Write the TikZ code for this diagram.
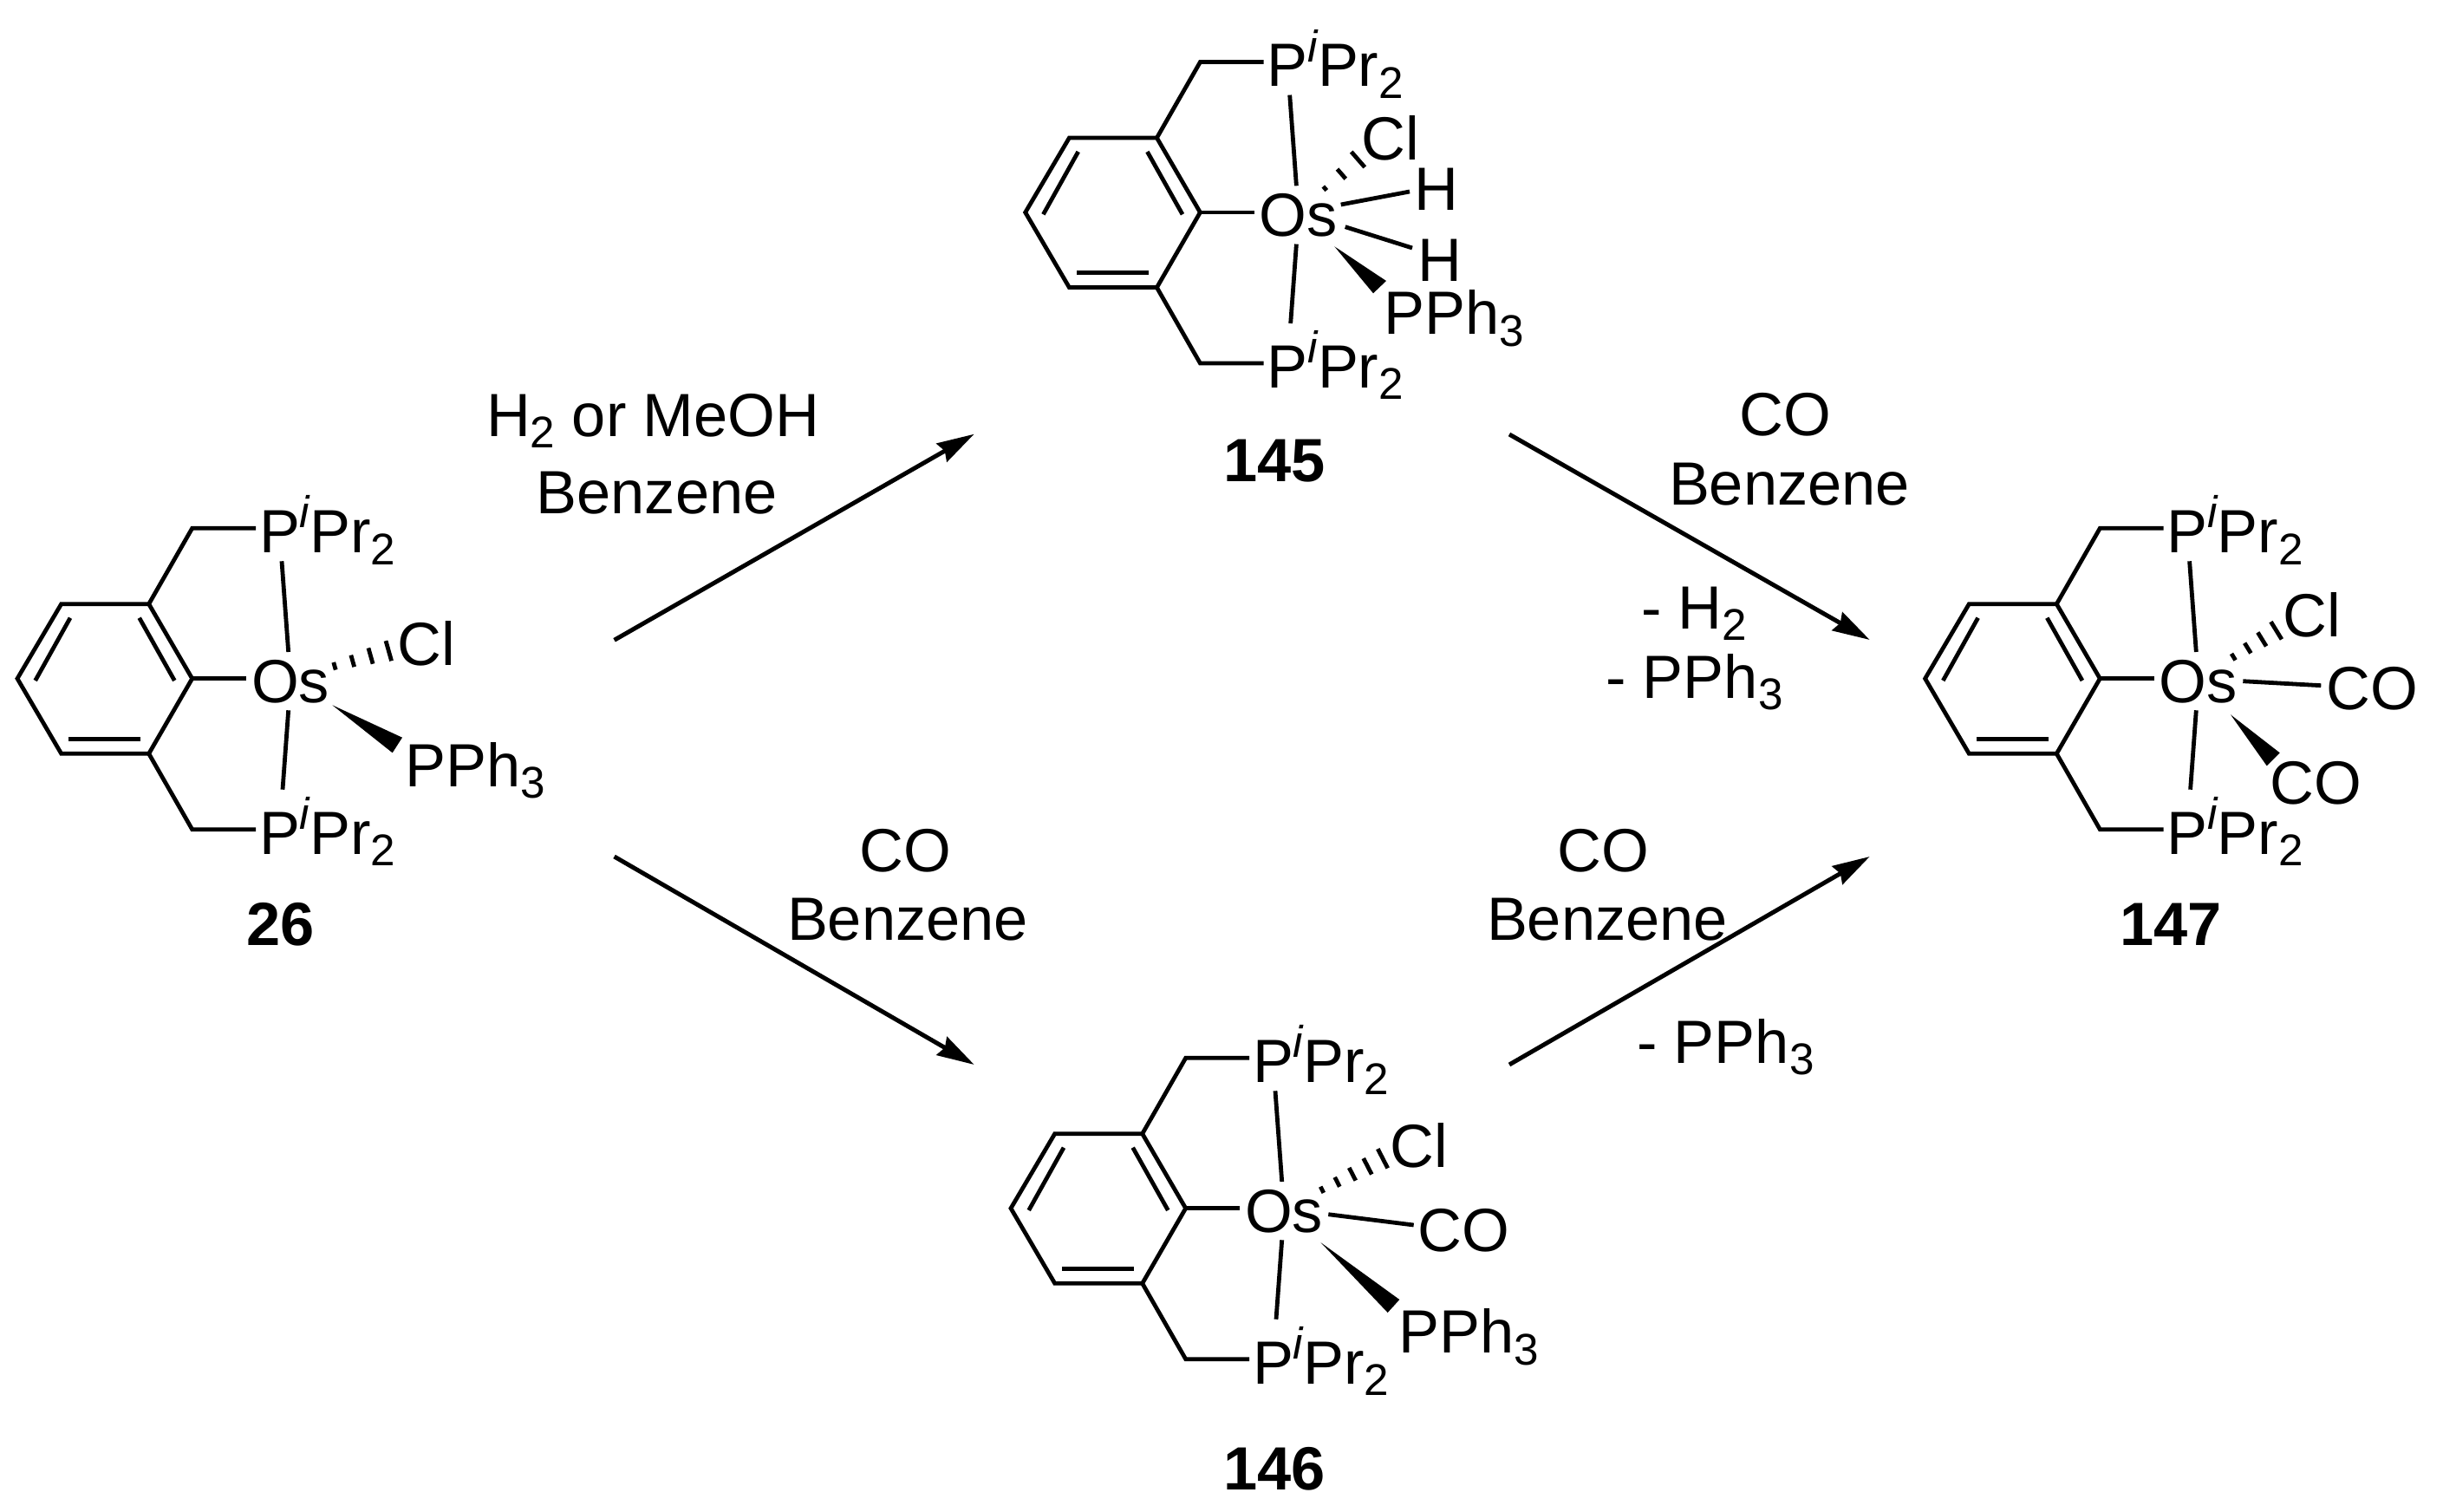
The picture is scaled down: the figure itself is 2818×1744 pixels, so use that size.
\documentclass[tikz,border=0pt]{standalone}
\usepackage{fontspec}
\setmainfont{Liberation Sans}
\usetikzlibrary{arrows.meta,calc}
\newcommand\txtfont{\fontsize{17.6}{20}\selectfont}
\newcommand\smfont{\fontsize{12.8}{14}\selectfont}
\newcommand\mysubs[1]{\raisebox{-.19em}{\smfont #1}}
\newcommand\PiPr{P\raisebox{.41em}{\smfont\itshape i}Pr\mysubs{2}}
\tikzset{
  lab/.style={anchor=base west,inner sep=0pt,outer sep=0pt,font=\txtfont,text=black},
  num/.style={lab,font=\txtfont\bfseries},
  bond/.style={line width=1.2pt,line cap=butt,line join=miter,black},
  rxn/.style={line width=1.25pt,black,-{Stealth[length=10.75pt,width=6pt,inset=1pt]}},
}
\newcommand\pincer[3]{%
\begin{scope}[shift={(#2,#3)}]
\coordinate (#1a) at (221.7,782.7);\coordinate (#1b) at (171.7,696.7);\coordinate (#1c) at (70.7,696.7);
\coordinate (#1d) at (20,782.7);\coordinate (#1e) at (70.7,869.3);\coordinate (#1f) at (171.7,869.3);
\coordinate (#1g) at (221.7,609.3);\coordinate (#1h) at (295,609.3);
\coordinate (#1i) at (221.7,956.7);\coordinate (#1j) at (295,956.7);
\coordinate (#1k) at (284,782.7);
\coordinate (#1l) at (325,647.3);\coordinate (#1m) at (332.7,752);
\coordinate (#1n) at (332.7,819.3);\coordinate (#1o) at (326,910.7);
\coordinate (#1p) at (160.7,712.7);\coordinate (#1q) at (201.3,785);
\coordinate (#1r) at (81,712.7);\coordinate (#1s) at (40.7,785);
\coordinate (#1t) at (79.3,852.3);\coordinate (#1u) at (162.3,852.3);
\draw[bond] (#1a)--(#1b)--(#1c)--(#1d)--(#1e)--(#1f)--cycle;
\draw[bond] (#1p)--(#1q);\draw[bond] (#1r)--(#1s);\draw[bond] (#1t)--(#1u);
\draw[bond] (#1b)--(#1g)--(#1h);\draw[bond] (#1f)--(#1i)--(#1j);
\draw[bond] (#1a)--(#1k);\draw[bond] (#1l)--(#1m);\draw[bond] (#1n)--(#1o);
\node[lab] (#1Pa) at (299,637.7) {\PiPr};
\node[lab] (#1Pb) at (299,985) {\PiPr};
\node[lab] (#1Os) at (290,810) {Os};
\end{scope}}
\newcommand\hashed[6]{% name, A, B, n, end half width, start half width (px)
\coordinate (#1A) at #2;\coordinate (#1B) at #3;\coordinate (#1C) at ($(#1A)!2!(#1B)$);
\foreach \k in {1,...,#4}{%
  \pgfmathsetmacro\ff{(\k-1)/(#4-1)}%
  \pgfmathsetmacro\hw{(#6+\ff*(#5-#6))*0.25}%
  \draw[bond] ($(#1A)!\ff!(#1B)!\hw pt!90:(#1C)$)--($(#1A)!\ff!(#1B)!\hw pt!-90:(#1C)$);
}}
\begin{document}
\begin{tikzpicture}[x=0.25pt,y=-0.25pt]
\useasboundingbox (0,0) rectangle (2818,1744);
% 26
\pincer{A}{0}{0}
\node[lab] (Acl) at (458.2,767.7) {Cl};
\node[lab] (Apph) at (467.7,907.3) {PPh\mysubs{3}};
\node[num] (Anum) at (284.7,1090) {26};
\hashed{Ah}{(386,768.3)}{(448.3,750.7)}{4}{12}{4.5}
\coordinate (Aw1) at (383.3,813.3);\coordinate (Aw2) at (464,850.7);\coordinate (Aw3) at (452.7,868.3);
\fill[black] (Aw1)--(Aw2)--(Aw3)--cycle;
% 145
\pincer{B}{1162.7}{-537.7}
\node[lab] (Bcl) at (1570.5,184.3) {Cl};
\node[lab] (Bh1) at (1631.8,242.3) {H};
\node[lab] (Bh2) at (1635.5,324.3) {H};
\node[lab] (Bpph) at (1596.7,385.7) {PPh\mysubs{3}};
\node[num] (Bnum) at (1411,556) {145};
\hashed{Bh}{(1528.3,217.3)}{(1566.5,184)}{3}{11.8}{3}
\coordinate (Bh1a) at (1546.7,236);\coordinate (Bh1b) at (1626,221);
\coordinate (Bh2a) at (1551.7,261.7);\coordinate (Bh2b) at (1629,286);
\draw[bond] (Bh1a)--(Bh1b);\draw[bond] (Bh2a)--(Bh2b);
\coordinate (Bw1) at (1539.3,284.3);\coordinate (Bw2) at (1599,324);\coordinate (Bw3) at (1584,338.3);
\fill[black] (Bw1)--(Bw2)--(Bw3)--cycle;
% 146
\pincer{C}{1146}{611}
\node[lab] (Ccl) at (1603.8,1346.3) {Cl};
\node[lab] (Cco) at (1635.8,1443.3) {CO};
\node[lab] (Cpph) at (1613.3,1560.7) {PPh\mysubs{3}};
\node[num] (Cnum) at (1411,1718.3) {146};
\hashed{Ch}{(1525,1372.3)}{(1595,1336.3)}{5}{12.5}{4}
\coordinate (Cb1) at (1532.3,1400.7);\coordinate (Cb2) at (1630.7,1413);
\draw[bond] (Cb1)--(Cb2);
\coordinate (Cw1) at (1523.3,1433);\coordinate (Cw2) at (1614.3,1499);\coordinate (Cw3) at (1600.7,1514);
\fill[black] (Cw1)--(Cw2)--(Cw3)--cycle;
% 147
\pincer{D}{2200.6}{0}
\node[lab] (Dcl) at (2633.8,734.3) {Cl};
\node[lab] (Dco1) at (2683.8,818.3) {CO};
\node[lab] (Dco2) at (2618.8,927.3) {CO};
\node[num] (Dnum) at (2445.3,1090) {147};
\hashed{Dh}{(2576.3,757.7)}{(2625.7,727.3)}{4}{11.9}{4.4}
\coordinate (Db1) at (2587.3,785.7);\coordinate (Db2) at (2677.3,790.7);
\draw[bond] (Db1)--(Db2);
\coordinate (Dw1) at (2573,824.3);\coordinate (Dw2) at (2629.7,868.3);\coordinate (Dw3) at (2614.7,883.3);
\fill[black] (Dw1)--(Dw2)--(Dw3)--cycle;
% reagents
\node[lab] (t1) at (561,503.3) {H\mysubs{2} or MeOH};
\node[lab] (t2) at (618.7,592.3) {Benzene};
\node[lab] (t3) at (2006.5,502.3) {CO};
\node[lab] (t4) at (1925,582.3) {Benzene};
\node[lab] (t5) at (1893,725) {- H\mysubs{2}};
\node[lab] (t6) at (1852,805) {- PPh\mysubs{3}};
\node[lab] (t7) at (991.5,1005) {CO};
\node[lab] (t8) at (908,1084.3) {Benzene};
\node[lab] (t9) at (1796.5,1005) {CO};
\node[lab] (t10) at (1715,1084.3) {Benzene};
\node[lab] (t11) at (1888,1226) {- PPh\mysubs{3}};
% arrows
\coordinate (s1) at (708.6,738.3);\coordinate (e1) at (1123.7,500.7);
\coordinate (s2) at (708.6,988);\coordinate (e2) at (1123.7,1228);
\coordinate (s3) at (1741,501);\coordinate (e3) at (2156.7,738);
\coordinate (s4) at (1741,1228);\coordinate (e4) at (2156.7,988);
\draw[rxn] (s1)--(e1);\draw[rxn] (s2)--(e2);\draw[rxn] (s3)--(e3);\draw[rxn] (s4)--(e4);
\end{tikzpicture}
\end{document}
